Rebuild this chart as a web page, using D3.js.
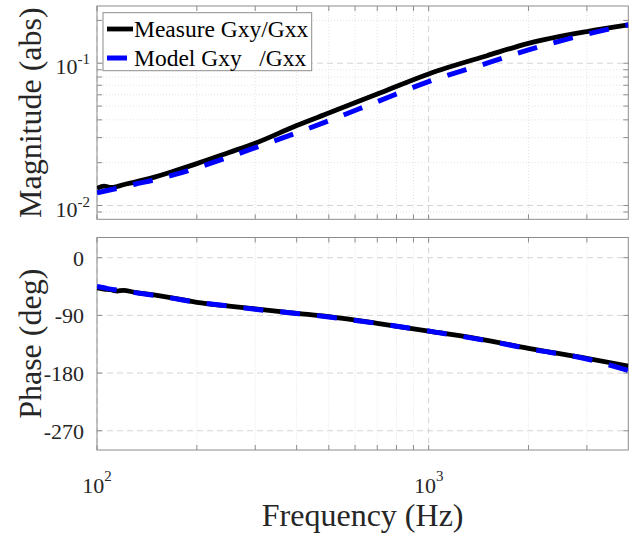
<!DOCTYPE html>
<html>
<head>
<meta charset="utf-8">
<script src="https://cdn.jsdelivr.net/npm/d3@7"></script>
<style>
  body { margin: 0; background: #fff; }
  svg { display: block; font-family: "Liberation Serif", "Times New Roman", serif; }
  text { white-space: pre; }
</style>
</head>
<body>
<svg width="639" height="533"></svg>
<script>
const freq       = [100, 105, 110, 115, 120, 130, 150, 170, 200, 250, 300, 400, 500, 700, 1000, 1500, 2000, 3000, 4000];
const magMeasure = [0.0132, 0.0137, 0.0134, 0.0136, 0.0140, 0.0146, 0.0159, 0.0174, 0.0197, 0.0236, 0.0274, 0.0365, 0.0447, 0.0607, 0.0841, 0.113, 0.138, 0.167, 0.186];
const magModel   = [0.0123, 0.0126, 0.0129, 0.0132, 0.0135, 0.0141, 0.0152, 0.0164, 0.0184, 0.0219, 0.0255, 0.0324, 0.0394, 0.0537, 0.0743, 0.100, 0.124, 0.160, 0.186];
const phMeasure  = [-47, -49, -50, -52, -51, -54, -58.5, -63, -69.6, -75.5, -80, -86.8, -92, -102.4, -114.4, -129, -141.4, -157, -169];
const phModel    = [-45, -47, -49, -50.5, -52, -54.5, -59, -63.5, -69.6, -75.5, -80.5, -87, -92.5, -102.5, -114.5, -129.5, -142, -158, -176];

const magTicks = [0.01, 0.1];
const magTickExp = ["-2", "-1"];
const magMinor = [0.009, 0.02, 0.03, 0.04, 0.05, 0.06, 0.07, 0.08, 0.09, 0.2];
const phTicks = [0, -90, -180, -270];
const xTicks = [100, 1000];
const xTickExp = ["2", "3"];
const xMinor = [200, 300, 400, 500, 600, 700, 800, 900, 2000, 3000];

const svg = d3.select("svg");
const left = 97, right = 628.3;
const gray = "#8c8c8c";

const x = d3.scaleLog().domain([100, 4000]).range([left, right]);
const yMag = d3.scaleLog().domain([0.008, 0.2525]).range([219.3, 6]);
const yPh = d3.scaleLinear().domain([-300, 31.5]).range([450, 237.5]);

function panel(id, y, majors, minors) {
  const [y0, y1] = y.range();
  const g = svg.append("g");
  g.append("clipPath").attr("id", id).append("rect")
    .attr("x", left).attr("y", y1).attr("width", right - left).attr("height", y0 - y1);

  // minor grid, dotted
  g.selectAll(".mx").data(xMinor).join("line")
    .attr("x1", d => x(d)).attr("x2", d => x(d)).attr("y1", y1).attr("y2", y0)
    .attr("stroke", "#e3e3e3").attr("stroke-dasharray", "1,2");
  g.selectAll(".my").data(minors).join("line")
    .attr("x1", left).attr("x2", right).attr("y1", d => y(d)).attr("y2", d => y(d))
    .attr("stroke", "#e3e3e3").attr("stroke-dasharray", "1,2");
  // major grid, dashed
  g.selectAll(".Mx").data(xTicks).join("line")
    .attr("x1", d => x(d)).attr("x2", d => x(d)).attr("y1", y1).attr("y2", y0)
    .attr("stroke", "#d4d4d4").attr("stroke-dasharray", "6,4");
  g.selectAll(".My").data(majors).join("line")
    .attr("x1", left).attr("x2", right).attr("y1", d => y(d)).attr("y2", d => y(d))
    .attr("stroke", "#d4d4d4").attr("stroke-dasharray", "6,4");

  // box + inward ticks on all sides
  g.append("rect").attr("x", left).attr("y", y1).attr("width", right - left).attr("height", y0 - y1)
    .attr("fill", "none").attr("stroke", gray).attr("stroke-width", 1);
  const tl = 5;
  const xt = xTicks.concat(xMinor);
  g.selectAll(".tb").data(xt).join("line")
    .attr("x1", d => x(d)).attr("x2", d => x(d)).attr("y1", y0).attr("y2", y0 - tl).attr("stroke", gray);
  g.selectAll(".tt").data(xt).join("line")
    .attr("x1", d => x(d)).attr("x2", d => x(d)).attr("y1", y1).attr("y2", y1 + tl).attr("stroke", gray);
  const yt = majors.concat(minors);
  g.selectAll(".tl").data(yt).join("line")
    .attr("x1", left).attr("x2", left + tl).attr("y1", d => y(d)).attr("y2", d => y(d)).attr("stroke", gray);
  g.selectAll(".tr").data(yt).join("line")
    .attr("x1", right).attr("x2", right - tl).attr("y1", d => y(d)).attr("y2", d => y(d)).attr("stroke", gray);
  return g;
}

function curves(g, id, y, meas, model) {
  const line = d3.line().x(d => x(d[0])).y(d => y(d[1])).curve(d3.curveMonotoneX);
  const c = g.append("g").attr("clip-path", `url(#${id})`);
  c.append("path").datum(d3.zip(freq, meas)).attr("d", line)
    .attr("fill", "none").attr("stroke", "#000").attr("stroke-width", 4.8).attr("stroke-linejoin", "round");
  c.append("path").datum(d3.zip(freq, model)).attr("d", line)
    .attr("fill", "none").attr("stroke", "#0000ff").attr("stroke-width", 5).attr("stroke-dasharray", "20,17");
}

const gMag = panel("clipMag", yMag, magTicks, magMinor);
curves(gMag, "clipMag", yMag, magMeasure, magModel);
const gPh = panel("clipPh", yPh, phTicks, []);
curves(gPh, "clipPh", yPh, phMeasure, phModel);

// y tick labels
const tickFont = 22;
gMag.selectAll(".ml").data(magTicks).join("text")
  .attr("x", 90).attr("y", d => yMag(d) + 11)
  .attr("text-anchor", "end").attr("font-size", tickFont).attr("fill", "#262626")
  .each(function (d, i) {
    const t = d3.select(this);
    t.append("tspan").text("10");
    t.append("tspan").attr("dy", -10).attr("font-size", 15).text(magTickExp[i]);
  });
gPh.selectAll(".pl").data(phTicks).join("text")
  .attr("x", 84).attr("y", d => yPh(d) + 8)
  .attr("text-anchor", "end").attr("font-size", tickFont).attr("fill", "#262626")
  .text(d => d);

// x tick labels
svg.selectAll(".xl").data(xTicks).join("text")
  .attr("x", d => x(d)).attr("y", 493)
  .attr("text-anchor", "middle").attr("font-size", tickFont).attr("fill", "#262626")
  .each(function (d, i) {
    const t = d3.select(this);
    t.append("tspan").text("10");
    t.append("tspan").attr("dy", -12).attr("font-size", 15).text(xTickExp[i]);
  });

// axis titles
svg.append("text").attr("x", (left + right) / 2).attr("y", 526)
  .attr("text-anchor", "middle").attr("font-size", 32).attr("fill", "#262626")
  .text("Frequency (Hz)");
svg.append("text").attr("transform", `translate(41,${(6 + 219.3) / 2}) rotate(-90)`)
  .attr("text-anchor", "middle").attr("font-size", 32).attr("fill", "#262626")
  .text("Magnitude (abs)");
svg.append("text").attr("transform", `translate(41,${(237.5 + 450) / 2}) rotate(-90)`)
  .attr("text-anchor", "middle").attr("font-size", 32).attr("fill", "#262626")
  .text("Phase (deg)");

// legend
const legend = [
  { label: "Measure Gxy/Gxx", color: "#000", dash: null, w: 4.8 },
  { label: "Model Gxy   /Gxx", color: "#0000ff", dash: "20,17", w: 5 }
];
const lg = svg.append("g");
lg.append("rect").attr("x", 103).attr("y", 12.7).attr("width", 208.7).attr("height", 58)
  .attr("fill", "#fff").attr("stroke", gray);
lg.selectAll("line").data(legend).join("line")
  .attr("x1", 107).attr("x2", 133)
  .attr("y1", (d, i) => 29 + i * 29).attr("y2", (d, i) => 29 + i * 29)
  .attr("stroke", d => d.color).attr("stroke-width", d => d.w)
  .attr("stroke-dasharray", d => d.dash);
lg.selectAll("text").data(legend).join("text")
  .attr("x", 134).attr("y", (d, i) => 36.5 + i * 29)
  .attr("font-size", 23.5).attr("fill", "#000")
  .text(d => d.label);
</script>
</body>
</html>
